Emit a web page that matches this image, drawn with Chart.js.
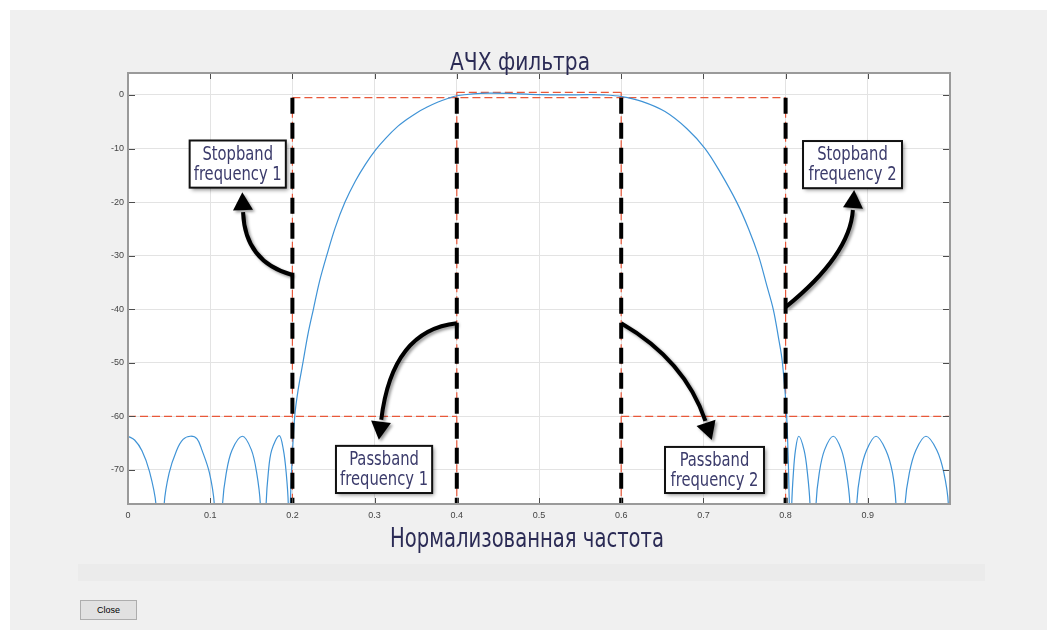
<!DOCTYPE html>
<html>
<head>
<meta charset="utf-8">
<script src="https://cdn.jsdelivr.net/npm/chart.js@4.4.1/dist/chart.umd.min.js"></script>
<style>
  body { margin: 0; width: 1047px; height: 630px; overflow: hidden; position: relative; background: #fff; font-family: "Liberation Sans", Arial, sans-serif; }
  #panel { position: absolute; left: 10px; top: 10px; width: 1037px; height: 620px; background: #f0f0f0; }
  #band { position: absolute; left: 78px; top: 564px; width: 907px; height: 17px; background: #ebebeb; }
  #close { position: absolute; left: 80px; top: 600px; width: 55px; height: 18px; background: #e1e1e1; border: 1px solid #adadad; font-size: 9px; line-height: 18px; text-align: center; color: #000; }
  canvas { position: absolute; left: 0; top: 0; }
</style>
</head>
<body>
<div id="panel"></div>
<div id="band"></div>
<div id="close">Close</div>
<canvas id="chart" width="1047" height="630"></canvas>
<script>
// АЧХ полосового фильтра (дБ)
const freq = [
  0.000, 0.008, 0.017, 0.026, 0.034, 0.039,
  0.044, 0.050, 0.059, 0.067, 0.076, 0.084, 0.090, 0.099, 0.105, 0.110,
  0.115, 0.1195, 0.1265, 0.139, 0.150, 0.1565, 0.161, 0.1645,
  0.168, 0.1707, 0.1748, 0.184, 0.189, 0.1925, 0.195, 0.1962,
  0.1975, 0.200, 0.203, 0.207, 0.213, 0.219, 0.2255, 0.233, 0.2417, 0.252, 0.264, 0.2765, 0.289, 0.3015,
  0.314, 0.3265, 0.339, 0.3515, 0.364, 0.3765, 0.389,
  0.400, 0.420, 0.440, 0.470, 0.500, 0.530, 0.560, 0.580, 0.6006, 0.625, 0.6533, 0.680, 0.702, 0.720,
  0.7405, 0.755, 0.767, 0.777, 0.785, 0.791, 0.796, 0.8013, 0.8045, 0.806,
  0.8075, 0.8095, 0.812, 0.816, 0.8225, 0.8265, 0.8297, 0.8335,
  0.837, 0.841, 0.8473, 0.858, 0.868, 0.874, 0.8783, 0.8825,
  0.8865, 0.891, 0.8985, 0.910, 0.922, 0.930, 0.9343, 0.940,
  0.9453, 0.9506, 0.9585, 0.9708, 0.984, 0.9925, 0.998, 1.000
];
const magDb = [
  -63.7, -64.4, -66.4, -70.2, -76.4, -95,
  -76.4, -70.6, -66.4, -64.3, -63.7, -64.2, -66.3, -70.5, -76.4, -95,
  -76.4, -70.6, -66.3, -63.7, -66.2, -70.5, -76.4, -95,
  -76.4, -70.5, -66.3, -63.6, -66.2, -70.6, -76.4, -95,
  -76.4, -67, -59.7, -55, -49.8, -44.6, -40, -34.8, -30, -24.8, -20, -16.1, -12.9, -10.2,
  -8.0, -6.1, -4.6, -3.3, -2.25, -1.35, -0.65,
  -0.15, 0.22, 0.33, 0.25, 0.05, 0, 0.05, 0, -0.3, -1.2, -3.1, -6.3, -10, -14.3,
  -20, -25, -30, -35.5, -40, -45, -49.8, -60, -76.4, -95,
  -76.4, -70.5, -66.3, -63.7, -66.3, -70.5, -76.4, -95,
  -76.4, -70.5, -66.3, -63.7, -66.3, -70.5, -76.4, -95,
  -76.4, -70.5, -66.3, -63.7, -66.3, -70.5, -76.4, -95,
  -76.4, -70.5, -66.3, -63.7, -66.3, -70.5, -76.4, -95
];

// маска (красный пунктир)
const maskX = [[0, 0.4], [0.6, 1], [0.2, 0.8], [0.4, 0.6], [0.2, 0.2], [0.4, 0.4], [0.6, 0.6], [0.8, 0.8]];
const maskY = [[-60, -60], [-60, -60], [-0.5, -0.5], [0.5, 0.5], [-0.5, -80], [0.5, -80], [0.5, -80], [-0.5, -80]];

// граничные частоты (чёрный пунктир)
const edgeFreq = [0.2, 0.4, 0.6, 0.8];
const edgeDb = [-0.5, -80];

const xTicks = [0, 0.1, 0.2, 0.3, 0.4, 0.5, 0.6, 0.7, 0.8, 0.9];
const yTicks = [0, -10, -20, -30, -40, -50, -60, -70];

const titleText = "АЧХ фильтра";
const xLabelText = "Нормализованная частота";
const narrowFont = '"Liberation Sans Narrow", "DejaVu Sans Condensed", "Noto Sans", sans-serif';

// подписи со стрелками, координаты в единицах осей
const notes = [
  { lines: ["Stopband", "frequency 1"], box: [0.075, -8.5, 0.192, -17.3], arrow: [0.2, -33.6, 0.1423, -31.2, 0.1399, -21.5] },
  { lines: ["Stopband", "frequency 2"], box: [0.8212, -8.6, 0.9416, -17.4], arrow: [0.8, -39.6, 0.8783, -29.9, 0.882, -21.1] },
  { lines: ["Passband", "frequency 1"], box: [0.253, -65.5, 0.370, -74.3], arrow: [0.4, -42.6, 0.3212, -43.9, 0.3078, -61.0] },
  { lines: ["Passband", "frequency 2"], box: [0.6533, -65.7, 0.7737, -74.3], arrow: [0.6, -42.6, 0.6776, -49.5, 0.7032, -61.2] }
];

function narrowText(ctx, text, cx, baseline, size, width, color) {
  ctx.save();
  ctx.font = size + "px " + narrowFont;
  const w = ctx.measureText(text).width;
  ctx.translate(cx, baseline);
  ctx.scale(width / w, 1);
  ctx.fillStyle = color;
  ctx.textAlign = "center";
  ctx.textBaseline = "alphabetic";
  ctx.fillText(text, 0, 0);
  ctx.restore();
}

const whiteArea = {
  id: "whiteArea",
  beforeDraw(chart) {
    const { ctx, chartArea: a } = chart;
    ctx.save();
    ctx.fillStyle = "#ffffff";
    ctx.fillRect(a.left, a.top, a.right - a.left, a.bottom - a.top);
    ctx.restore();
  }
};

const frame = {
  id: "frame",
  afterDatasetsDraw(chart) {
    const { ctx, chartArea: a, scales } = chart;
    ctx.save();
    ctx.strokeStyle = "#4d4d4d";
    ctx.lineWidth = 1;
    ctx.beginPath();
    xTicks.forEach(v => {
      const px = Math.round(scales.x.getPixelForValue(v)) + 0.5;
      ctx.moveTo(px, a.bottom); ctx.lineTo(px, a.bottom - 6);
      ctx.moveTo(px, a.top); ctx.lineTo(px, a.top + 6);
    });
    yTicks.forEach(v => {
      const py = Math.round(scales.y.getPixelForValue(v)) + 0.5;
      ctx.moveTo(a.left, py); ctx.lineTo(a.left + 7, py);
      ctx.moveTo(a.right, py); ctx.lineTo(a.right - 7, py);
    });
    ctx.stroke();
    ctx.strokeStyle = "#9a9a9a";
    ctx.lineWidth = 2;
    ctx.strokeRect(a.left, a.top, a.right - a.left, a.bottom - a.top);
    ctx.restore();
  }
};

const callouts = {
  id: "callouts",
  afterDraw(chart) {
    const { ctx, scales } = chart;
    const X = v => scales.x.getPixelForValue(v);
    const Y = v => scales.y.getPixelForValue(v);
    ctx.save();
    ctx.font = "20px " + narrowFont;
    const k = 88 / ctx.measureText("frequency 1").width;
    notes.forEach(n => {
      const [x0, y0, x1, y1] = n.box;
      const l = X(x0), t = Y(y0), r = X(x1), b = Y(y1);
      ctx.save();
      ctx.shadowColor = "rgba(0,0,0,0.45)";
      ctx.shadowBlur = 4;
      ctx.shadowOffsetX = 2;
      ctx.shadowOffsetY = 2;
      ctx.fillStyle = "#ffffff";
      ctx.fillRect(l, t, r - l, b - t);
      ctx.restore();
      ctx.strokeStyle = "#111";
      ctx.lineWidth = 2;
      ctx.strokeRect(l, t, r - l, b - t);
      const cx = (l + r) / 2;
      n.lines.forEach((s, i) => {
        ctx.font = "20px " + narrowFont;
        narrowText(ctx, s, cx, t + 19 + i * 20, 20, ctx.measureText(s).width * k, "#3b3b6b");
      });

      const [ax, ay, cxv, cyv, bx, by] = n.arrow;
      const p0 = [X(ax), Y(ay)], c = [X(cxv), Y(cyv)], p2 = [X(bx), Y(by)];
      let dx = p2[0] - c[0], dy = p2[1] - c[1];
      const len = Math.hypot(dx, dy);
      dx /= len; dy /= len;
      ctx.save();
      ctx.shadowColor = "rgba(0,0,0,0.4)";
      ctx.shadowBlur = 3;
      ctx.shadowOffsetX = 2;
      ctx.shadowOffsetY = 2;
      ctx.strokeStyle = "#000";
      ctx.fillStyle = "#000";
      ctx.lineWidth = 4;
      ctx.lineCap = "butt";
      ctx.beginPath();
      ctx.moveTo(p0[0], p0[1]);
      ctx.quadraticCurveTo(c[0], c[1], p2[0] - dx * 2, p2[1] - dy * 2);
      ctx.stroke();
      ctx.beginPath();
      ctx.moveTo(p2[0] + dx * 18, p2[1] + dy * 18);
      ctx.lineTo(p2[0] - dy * 10, p2[1] + dx * 10);
      ctx.lineTo(p2[0] + dy * 10, p2[1] - dx * 10);
      ctx.closePath();
      ctx.fill();
      ctx.restore();
    });

    narrowText(ctx, titleText, 520, 70, 24, 140, "#2b2b55");
    narrowText(ctx, xLabelText, 527, 547, 27, 274, "#2b2b55");
    ctx.restore();
  }
};

const datasets = [];
edgeFreq.forEach(f => {
  datasets.push({
    data: edgeDb.map(v => ({ x: f, y: v })),
    borderColor: "#000000",
    borderWidth: 4,
    borderDash: [16, 9],
    order: 0
  });
});
datasets.push({
  data: freq.map((f, i) => ({ x: f, y: magDb[i] })),
  borderColor: "#3f93d6",
  borderWidth: 1.2,
  tension: 0.35,
  order: 1
});
maskX.forEach((xs, i) => {
  datasets.push({
    data: xs.map((x, j) => ({ x: x, y: maskY[i][j] })),
    borderColor: "#e8583a",
    borderWidth: 1.2,
    borderDash: [8, 4],
    order: 2
  });
});

new Chart(document.getElementById("chart"), {
  type: "scatter",
  data: { datasets },
  options: {
    responsive: false,
    animation: false,
    showLine: true,
    elements: { point: { radius: 0, hoverRadius: 0 } },
    layout: { padding: { left: 88, top: 73, right: 97, bottom: 106 } },
    plugins: { legend: { display: false }, tooltip: { enabled: false } },
    scales: {
      x: {
        type: "linear",
        min: 0,
        max: 1,
        afterBuildTicks: s => { s.ticks = xTicks.map(v => ({ value: v })); },
        afterFit: s => { s.height = 20; },
        ticks: { font: { family: "Liberation Sans", size: 9 }, color: "#444", padding: 6, maxRotation: 0, callback: v => String(v) },
        grid: { color: "#e3e3e3", drawTicks: false },
        border: { display: false }
      },
      y: {
        type: "linear",
        min: -76.35,
        max: 4.1,
        afterBuildTicks: s => { s.ticks = yTicks.map(v => ({ value: v })); },
        afterFit: s => { s.width = 40; },
        ticks: { font: { family: "Liberation Sans", size: 9 }, color: "#444", padding: 4, callback: v => String(v) },
        grid: { color: "#e3e3e3", drawTicks: false },
        border: { display: false }
      }
    }
  },
  plugins: [whiteArea, frame, callouts]
});
</script>
</body>
</html>
